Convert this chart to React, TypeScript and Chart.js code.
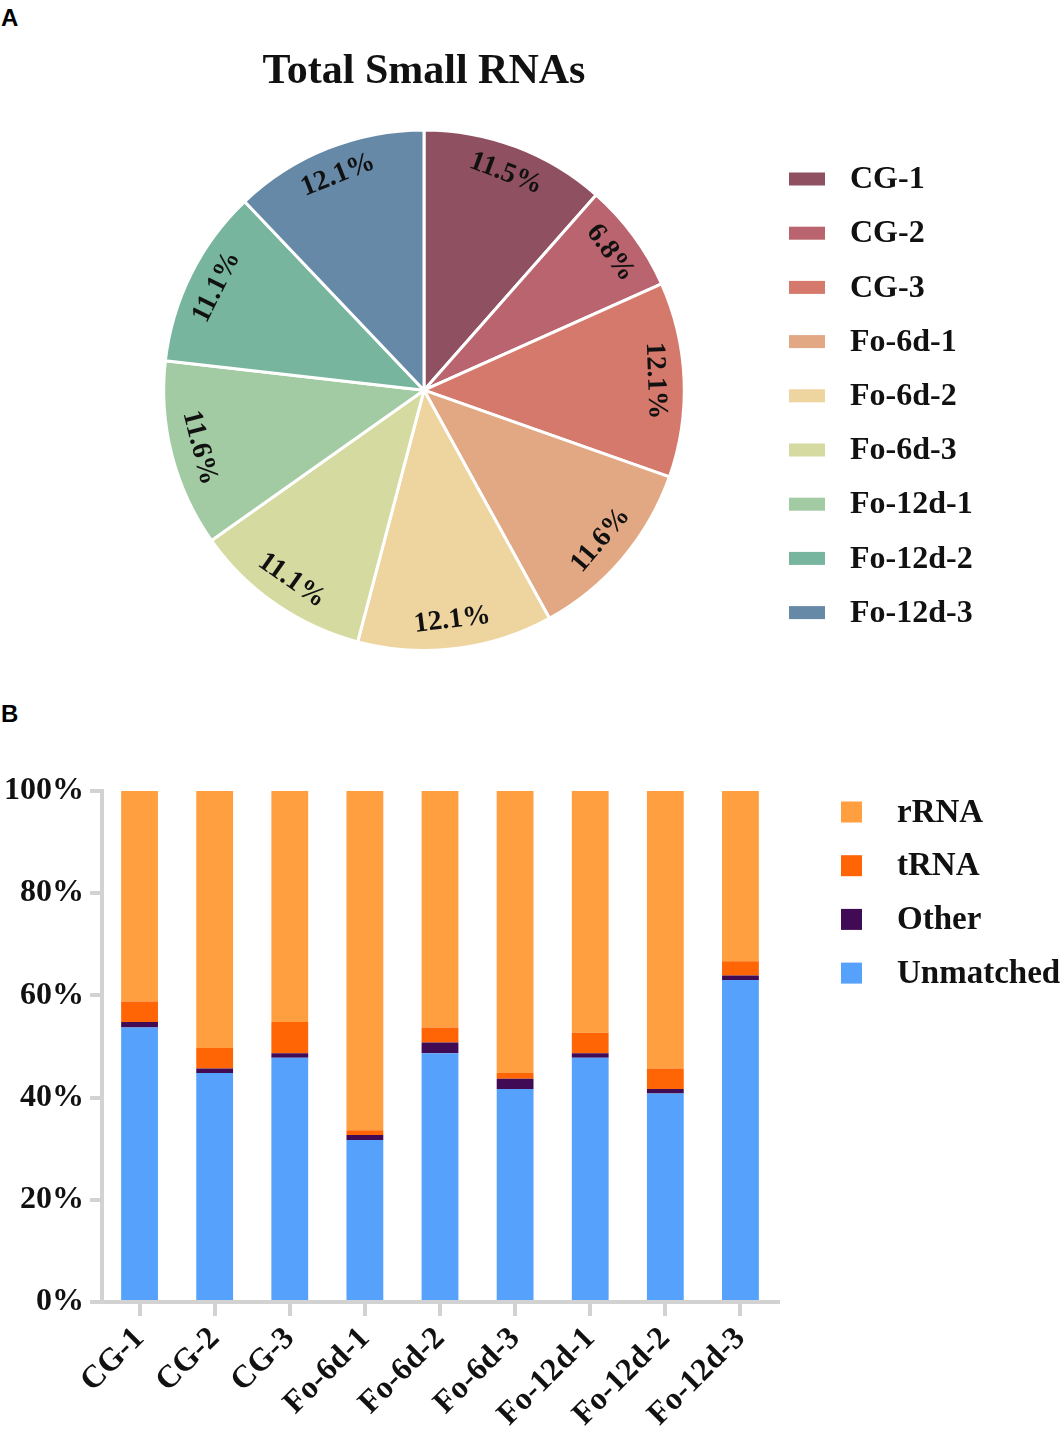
import { useEffect, useRef } from 'react';
import { Chart, registerables } from 'chart.js';

Chart.register(...registerables);

const SERIF = '"Liberation Serif", "Times New Roman", serif';

// panel A: share of total small RNAs per library
const SAMPLES = ['CG-1', 'CG-2', 'CG-3', 'Fo-6d-1', 'Fo-6d-2', 'Fo-6d-3', 'Fo-12d-1', 'Fo-12d-2', 'Fo-12d-3'];
const PIE_SHARES = [11.5, 6.8, 12.1, 11.6, 12.1, 11.1, 11.6, 11.1, 12.1];
const PIE_COLORS = ['#8F5062', '#B9646E', '#D4796B', '#E1A883', '#EED49E', '#D5DBA0', '#A3CBA3', '#77B59F', '#6789A8'];

// panel B: composition per library (%), stacked bottom -> top
const UNMATCHED = [53.7, 44.8, 47.8, 31.7, 48.7, 41.7, 47.8, 40.8, 63.0];
const OTHER = [1.1, 0.9, 0.9, 1.0, 2.1, 2.0, 0.9, 0.9, 0.9];
const TRNA = [4.0, 4.0, 6.1, 0.9, 2.9, 1.1, 4.0, 4.0, 2.8];
const RRNA = [41.2, 50.3, 45.2, 66.4, 46.3, 55.2, 47.3, 54.3, 33.3];
const Y_TICKS = [0, 20, 40, 60, 80, 100];

const AXIS_GREY = '#D2D2D2';

// legend drawn at fixed spot to the right of the plot
const sideLegend = {
  id: 'sideLegend',
  afterDraw(chart: any, _args: any, opts: any) {
    const { ctx } = chart;
    ctx.save();
    ctx.font = `bold ${opts.fontSize}px ${SERIF}`;
    ctx.textBaseline = 'middle';
    ctx.textAlign = 'left';
    opts.items.forEach((it: any, i: number) => {
      const cy = opts.y0 + i * opts.step;
      ctx.fillStyle = it.color;
      ctx.fillRect(opts.boxX, cy - opts.boxH / 2, opts.boxW, opts.boxH);
      ctx.fillStyle = '#111';
      ctx.fillText(it.label, opts.textX, cy + 1);
    });
    ctx.restore();
  },
};

// percentage labels laid along the arc of each slice
const sliceLabels = {
  id: 'sliceLabels',
  afterDatasetsDraw(chart: any) {
    const { ctx } = chart;
    const meta = chart.getDatasetMeta(0);
    ctx.save();
    ctx.font = `bold 28px ${SERIF}`;
    ctx.fillStyle = '#111';
    ctx.textAlign = 'center';
    ctx.textBaseline = 'middle';
    meta.data.forEach((arc: any, i: number) => {
      const { x, y, startAngle, endAngle, outerRadius } = arc.getProps(['x', 'y', 'startAngle', 'endAngle', 'outerRadius'], true);
      const mid = (startAngle + endAngle) / 2;
      const r = outerRadius * 0.89;
      let rot = mid + Math.PI / 2;
      rot = Math.atan2(Math.sin(rot), Math.cos(rot));
      if (rot > Math.PI / 2) rot -= Math.PI;
      else if (rot < -Math.PI / 2) rot += Math.PI;
      ctx.save();
      ctx.translate(x + Math.cos(mid) * r, y + Math.sin(mid) * r);
      ctx.rotate(rot);
      ctx.fillText(PIE_SHARES[i].toFixed(1) + '%', 0, 0);
      ctx.restore();
    });
    ctx.restore();
  },
};

function PieChart() {
  const ref = useRef<HTMLCanvasElement>(null);
  useEffect(() => {
    if (!ref.current) return;
    const c = new Chart(ref.current, {
      type: 'pie',
      data: {
        labels: SAMPLES,
        datasets: [{ data: PIE_SHARES, backgroundColor: PIE_COLORS, borderColor: '#FFFFFF', borderWidth: 3 }],
      },
      options: {
        responsive: false,
        animation: false,
        layout: { padding: { top: 0, right: 216, bottom: 18, left: 0 } },
        plugins: {
          legend: { display: false },
          tooltip: { enabled: false },
          title: {
            display: true,
            text: 'Total Small RNAs',
            fullSize: false,
            color: '#111',
            font: { family: SERIF, size: 42, weight: 'bold' },
            padding: { top: 17, bottom: 31 },
          },
          sideLegend: {
            fontSize: 32,
            boxX: 789, boxW: 36, boxH: 13, textX: 850,
            y0: 149, step: 54.2,
            items: SAMPLES.map((s, i) => ({ label: s, color: PIE_COLORS[i] })),
          },
        } as any,
      },
      plugins: [sliceLabels, sideLegend],
    });
    return () => c.destroy();
  }, []);
  return <canvas ref={ref} width={1064} height={640} style={{ position: 'absolute', left: 0, top: 30 }} />;
}

function StackedBars() {
  const ref = useRef<HTMLCanvasElement>(null);
  useEffect(() => {
    if (!ref.current) return;
    const bar = { categoryPercentage: 1, barPercentage: 0.49, borderWidth: 0 };
    const c = new Chart(ref.current, {
      type: 'bar',
      data: {
        labels: SAMPLES,
        datasets: [
          { label: 'Unmatched', data: UNMATCHED, backgroundColor: '#55A1FB', ...bar },
          { label: 'Other', data: OTHER, backgroundColor: '#400A55', ...bar },
          { label: 'tRNA', data: TRNA, backgroundColor: '#FF6405', ...bar },
          { label: 'rRNA', data: RRNA, backgroundColor: '#FF9F40', ...bar },
        ],
      },
      options: {
        responsive: false,
        animation: false,
        layout: { padding: { top: 51, right: 286, bottom: 0, left: 0 } },
        scales: {
          x: {
            stacked: true,
            afterFit: (s: any) => { s.height = 131; },
            grid: { offset: false, drawOnChartArea: false, color: AXIS_GREY, lineWidth: 4, tickLength: 14 },
            border: { color: AXIS_GREY, width: 4 },
            ticks: {
              color: '#111',
              font: { family: SERIF, size: 32, weight: 'bold' },
              minRotation: 45, maxRotation: 45, padding: 4,
            },
          },
          y: {
            stacked: true,
            min: 0, max: 100,
            afterFit: (s: any) => { s.width = 102; },
            afterBuildTicks: (s: any) => { s.ticks = Y_TICKS.map((v) => ({ value: v })); },
            grid: { drawOnChartArea: false, color: AXIS_GREY, lineWidth: 4, tickLength: 12 },
            border: { color: AXIS_GREY, width: 4 },
            ticks: {
              color: '#111',
              font: { family: SERIF, size: 32, weight: 'bold' },
              padding: 6,
              callback: (v: any) => v + '%',
            },
          },
        },
        plugins: {
          legend: { display: false },
          tooltip: { enabled: false },
          sideLegend: {
            fontSize: 33,
            boxX: 841, boxW: 21, boxH: 21, textX: 897,
            y0: 72, step: 53.7,
            items: [
              { label: 'rRNA', color: '#FF9F40' },
              { label: 'tRNA', color: '#FF6405' },
              { label: 'Other', color: '#400A55' },
              { label: 'Unmatched', color: '#55A1FB' },
            ],
          },
        } as any,
      },
      plugins: [sideLegend],
    });
    return () => c.destroy();
  }, []);
  return <canvas ref={ref} width={1064} height={693} style={{ position: 'absolute', left: 0, top: 740 }} />;
}

const panelLetter = {
  position: 'absolute' as const,
  left: 1,
  fontFamily: '"Liberation Sans", Arial, sans-serif',
  fontWeight: 'bold' as const,
  fontSize: 24,
  lineHeight: '24px',
  color: '#000',
};

export default function App() {
  return (
    <div style={{ position: 'absolute', left: 0, top: 0, width: 1064, height: 1433, background: '#fff', overflow: 'hidden' }}>
      <div style={{ ...panelLetter, top: 6 }}>A</div>
      <PieChart />
      <div style={{ ...panelLetter, top: 702 }}>B</div>
      <StackedBars />
    </div>
  );
}
